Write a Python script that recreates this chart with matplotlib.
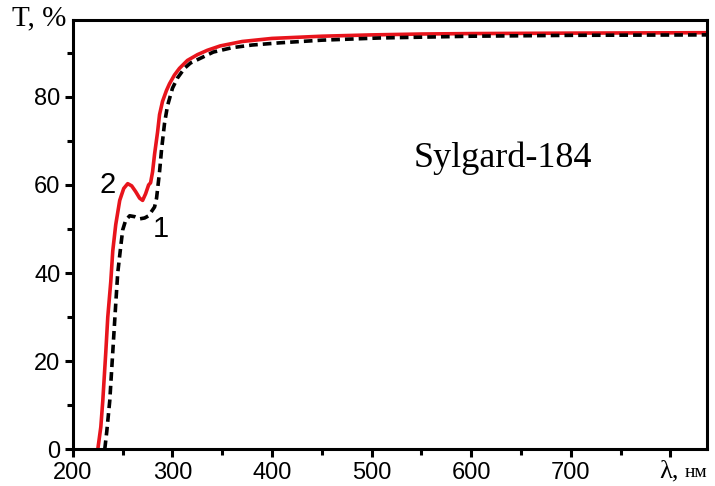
import matplotlib.pyplot as plt
from matplotlib.ticker import MultipleLocator

# кривая 2 (красная)
wl_2 = [225, 228, 230, 233, 235, 238, 240, 243, 247, 251, 255, 259, 263, 267,
        270, 273, 276, 278, 280, 282, 285, 287, 290, 294, 297, 302, 307, 315,
        325, 335, 348, 370, 400, 450, 500, 550, 600, 700, 837]
t_2 = [0, 5, 11, 22, 30, 38, 45, 51, 56.5, 59.2, 60.3, 59.8, 58.5, 57,
       56.5, 58, 60, 60.5, 63, 67, 72, 76, 79, 81.5, 83, 85, 86.5, 88.3,
       89.6, 90.6, 91.6, 92.6, 93.3, 93.8, 94.1, 94.3, 94.4, 94.5, 94.6]

# кривая 1 (чёрная пунктирная)
wl_1 = [232, 234, 237, 240, 243, 245, 248, 250, 253, 257, 262, 267, 272, 276,
        279, 282, 284, 286, 287, 289, 292, 295, 300, 305, 312, 318, 330, 341,
        360, 380, 408, 450, 508, 600, 700, 837]
t_1 = [0, 4, 11, 22, 33, 40, 46, 49.8, 52, 53, 52.8, 52.3, 52.5, 53,
       54, 55, 57, 61, 63, 68, 74, 78, 82, 84.3, 86.5, 87.7, 89, 90.2,
       91.2, 91.8, 92.3, 92.9, 93.4, 93.8, 94, 94.1]

fig = plt.figure(figsize=(7.15, 4.86), dpi=100)
ax = fig.add_axes([0.102, 0.076, 0.887, 0.883])

ax.plot(wl_2, t_2, color='#e8141c', lw=2.6, solid_joinstyle='round')
ax.plot(wl_1, t_1, color='black', lw=2.6, dashes=(2.4, 1.4))

ax.set_xlim(200, 837)
ax.set_ylim(0, 97.5)
ax.xaxis.set_minor_locator(MultipleLocator(50))
ax.yaxis.set_major_locator(MultipleLocator(20))
ax.yaxis.set_minor_locator(MultipleLocator(10))
ax.set_xticks([200, 300, 400, 500, 600, 700, 800])
ax.set_xticklabels(['200', '300', '400', '500', '600', '700', ''])

for s in ax.spines.values():
    s.set_linewidth(2.2)
ax.tick_params(which='major', direction='out', length=6, width=2.2,
               labelsize=17, pad=3)
ax.tick_params(which='minor', direction='out', length=4, width=2.2)
for lab in ax.get_xticklabels() + ax.get_yticklabels():
    lab.set_family('Liberation Sans')

ax.text(235, 60, '2', fontsize=21, family='Liberation Sans',
        ha='center', va='center')
ax.text(288, 50, '1', fontsize=21, family='Liberation Sans',
        ha='center', va='center')
ax.text(542, 64, 'Sylgard-184', fontsize=26, family='Liberation Serif',
        ha='left', va='baseline')

fig.text(0.017, 0.963, 'T, %', fontsize=21, family='Liberation Serif',
         ha='left', va='center')
fig.text(0.922, 0.018, 'λ,', fontsize=19, family='Liberation Serif',
         ha='left', va='baseline')
fig.text(0.958, 0.018, 'нм', fontsize=14, family='Liberation Serif',
         ha='left', va='baseline')

fig.savefig('out.png', dpi=100, facecolor='white')
